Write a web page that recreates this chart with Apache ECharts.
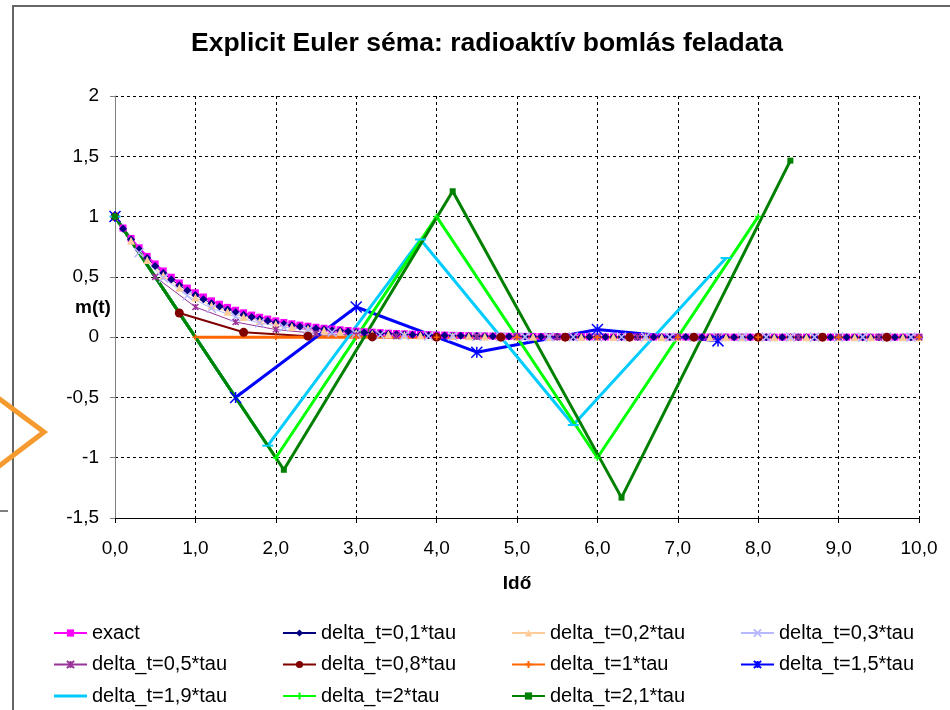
<!DOCTYPE html>
<html>
<head>
    <meta charset="utf-8">
    <title>ECharts</title>
    <script src="https://cdn.jsdelivr.net/npm/echarts@6/dist/echarts.min.js"></script>
    <style>
        html, body { margin: 0; padding: 0; background: #fff; }
    </style>
</head>
<body>
    <div id="main" style="width: 950px;height:710px;"></div>
    <script type="text/javascript">
    // idopontok (tau egysegben)
    var t01 = [0,0.1,0.2,0.3,0.4,0.5,0.6,0.7,0.8,0.9,
        1,1.1,1.2,1.3,1.4,1.5,1.6,1.7,1.8,1.9,
        2,2.1,2.2,2.3,2.4,2.5,2.6,2.7,2.8,2.9,
        3,3.1,3.2,3.3,3.4,3.5,3.6,3.7,3.8,3.9,
        4,4.1,4.2,4.3,4.4,4.5,4.6,4.7,4.8,4.9,
        5,5.1,5.2,5.3,5.4,5.5,5.6,5.7,5.8,5.9,
        6,6.1,6.2,6.3,6.4,6.5,6.6,6.7,6.8,6.9,
        7,7.1,7.2,7.3,7.4,7.5,7.6,7.7,7.8,7.9,
        8,8.1,8.2,8.3,8.4,8.5,8.6,8.7,8.8,8.9,
        9,9.1,9.2,9.3,9.4,9.5,9.6,9.7,9.8,9.9,
        10];
    var t02 = [0,0.2,0.4,0.6,0.8,1,1.2,1.4,1.6,1.8,
        2,2.2,2.4,2.6,2.8,3,3.2,3.4,3.6,3.8,
        4,4.2,4.4,4.6,4.8,5,5.2,5.4,5.6,5.8,
        6,6.2,6.4,6.6,6.8,7,7.2,7.4,7.6,7.8,
        8,8.2,8.4,8.6,8.8,9,9.2,9.4,9.6,9.8,
        10];
    var t03 = [0,0.3,0.6,0.9,1.2,1.5,1.8,2.1,2.4,2.7,
        3,3.3,3.6,3.9,4.2,4.5,4.8,5.1,5.4,5.7,
        6,6.3,6.6,6.9,7.2,7.5,7.8,8.1,8.4,8.7,
        9,9.3,9.6,9.9];
    var t05 = [0,0.5,1,1.5,2,2.5,3,3.5,4,4.5,5,5.5,6,6.5,7,7.5,8,8.5,9,9.5,10];
    var t08 = [0,0.8,1.6,2.4,3.2,4,4.8,5.6,6.4,7.2,8,8.8,9.6];
    var t1 = [0,1,2,3,4,5,6,7,8,9,10];
    var t15 = [0,1.5,3,4.5,6,7.5];
    var t19 = [0,1.9,3.8,5.7,7.6];
    var t2 = [0,2,4,6,8];
    var t21 = [0,2.1,4.2,6.3,8.4];

    // m(t) ertekek
    var exact = [1,0.905,0.819,0.741,0.670,0.607,0.549,0.497,0.449,0.407,
        0.368,0.333,0.301,0.273,0.247,0.223,0.202,0.183,0.165,0.150,
        0.135,0.122,0.111,0.100,0.091,0.082,0.074,0.067,0.061,0.055,
        0.050,0.045,0.041,0.037,0.033,0.030,0.027,0.025,0.022,0.020,
        0.018,0.017,0.015,0.014,0.012,0.011,0.010,0.009,0.008,0.007,
        0.007,0.006,0.006,0.005,0.005,0.004,0.004,0.003,0.003,0.003,
        0.002,0.002,0.002,0.002,0.002,0.002,0.001,0.001,0.001,0.001,
        0.001,0.001,0.001,0.001,0.001,0.001,0.001,0,0,0,
        0,0,0,0,0,0,0,0,0,0,
        0,0,0,0,0,0,0,0,0,0,
        0];
    var m01 = [1,0.9,0.81,0.729,0.656,0.590,0.531,0.478,0.430,0.387,
        0.349,0.314,0.282,0.254,0.229,0.206,0.185,0.167,0.150,0.135,
        0.122,0.109,0.098,0.089,0.080,0.072,0.065,0.058,0.052,0.047,
        0.042,0.038,0.034,0.031,0.028,0.025,0.023,0.020,0.018,0.016,
        0.015,0.013,0.012,0.011,0.010,0.009,0.008,0.007,0.006,0.006,
        0.005,0.005,0.004,0.004,0.003,0.003,0.003,0.002,0.002,0.002,
        0.002,0.002,0.001,0.001,0.001,0.001,0.001,0.001,0.001,0.001,
        0.001,0.001,0.001,0,0,0,0,0,0,0,
        0,0,0,0,0,0,0,0,0,0,
        0,0,0,0,0,0,0,0,0,0,
        0];
    var m02 = [1,0.8,0.64,0.512,0.410,0.328,0.262,0.210,0.168,0.134,
        0.107,0.086,0.069,0.055,0.044,0.035,0.028,0.023,0.018,0.014,
        0.012,0.009,0.007,0.006,0.005,0.004,0.003,0.002,0.002,0.002,
        0.001,0.001,0.001,0.001,0,0,0,0,0,0,
        0,0,0,0,0,0,0,0,0,0,
        0];
    var m03 = [1,0.7,0.49,0.343,0.240,0.168,0.118,0.082,0.058,0.040,
        0.028,0.020,0.014,0.010,0.007,0.005,0.003,0.002,0.002,0.001,
        0.001,0.001,0,0,0,0,0,0,0,0,
        0,0,0,0];
    var m05 = [1,0.5,0.25,0.125,0.063,0.031,0.016,0.008,0.004,0.002,0.001,0,0,0,0,0,0,0,0,0,0];
    var m08 = [1,0.2,0.04,0.008,0.002,0,0,0,0,0,0,0,0];
    var m1 = [1,0,0,0,0,0,0,0,0,0,0];
    var m15 = [1,-0.5,0.25,-0.125,0.063,-0.031];
    var m19 = [1,-0.9,0.81,-0.729,0.656];
    var m2 = [1,-1,1,-1,1];
    var m21 = [1,-1.1,1.21,-1.331,1.464];

    var names = ['exact','delta_t=0,1*tau','delta_t=0,2*tau','delta_t=0,3*tau',
        'delta_t=0,5*tau','delta_t=0,8*tau','delta_t=1*tau','delta_t=1,5*tau',
        'delta_t=1,9*tau','delta_t=2*tau','delta_t=2,1*tau'];
    var xs = [t01, t01, t02, t03, t05, t08, t1, t15, t19, t2, t21];
    var ys = [exact, m01, m02, m03, m05, m08, m1, m15, m19, m2, m21];

    var FONT = 'Liberation Sans';
    var pX = 'path://M0,0L10,10M10,0L0,10';
    var pAst = 'path://M0,0L10,10M10,0L0,10M5,0L5,10';
    var pPlus = 'path://M5,0L5,10M0,5L10,5';

    // stilusok sorozatonkent
    var styles = [
        {color: '#FF00FF', width: 2, symbol: 'rect', size: 7},
        {color: '#000080', width: 1, symbol: 'diamond', size: 8},
        {color: '#FFCC99', width: 1, symbol: 'triangle', size: 8},
        {color: '#B8B8FF', width: 1, symbol: pX, size: 9, stroke: true},
        {color: '#993399', width: 1, symbol: pAst, size: 6, stroke: true},
        {color: '#800000', width: 2, symbol: 'circle', size: 9},
        {color: '#FF6600', width: 3, symbol: pPlus, size: 6, stroke: true},
        {color: '#0000FF', width: 3, symbol: pAst, size: 11, stroke: true},
        {color: '#00CCFF', width: 3, symbol: 'rect', size: [11, 2]},
        {color: '#00FF00', width: 3, symbol: pPlus, size: 6, stroke: true},
        {color: '#008000', width: 3, symbol: 'rect', size: 6}
    ];

    var series = names.map(function (n, i) {
        var s = styles[i];
        return {
            name: n,
            type: 'line',
            data: xs[i].map(function (x, j) { return [x, ys[i][j]]; }),
            symbol: s.symbol,
            symbolSize: s.size,
            showAllSymbol: true,
            lineStyle: {color: s.color, width: s.width},
            itemStyle: s.stroke ? {color: s.color, borderColor: s.color, borderWidth: 1.5} : {color: s.color},
            animation: false
        };
    });

    // jelmagyarazat: 4 oszlop, soronkent balrol jobbra
    var legCols = [53, 282, 511, 740];
    var legends = legCols.map(function (left, c) {
        return {
            data: names.filter(function (n, i) { return i % 4 === c; }).map(function (n) {
                // az 1,9-es sorozatnak csak vonal a jele
                return n === 'delta_t=1,9*tau' ? {name: n, icon: 'path://M0,0L33,0L33,3L0,3Z'} : n;
            }),
            orient: 'vertical',
            left: left,
            top: 623,
            padding: 0,
            itemWidth: 33,
            itemHeight: 9,
            itemGap: 11.5,
            selectedMode: false,
            textStyle: {fontFamily: FONT, fontSize: 20, lineHeight: 20, color: '#000'}
        };
    });

    var myChart = echarts.init(document.getElementById('main'));
    var option = {
        backgroundColor: '#fff',
        animation: false,
        grid: {left: 115, right: 31, top: 96, bottom: 192},
        legend: legends,
        xAxis: {
            type: 'value', min: 0, max: 10, interval: 1,
            axisLine: {onZero: false, lineStyle: {color: '#000', width: 1}},
            axisTick: {length: 5, lineStyle: {color: '#000'}},
            axisLabel: {fontFamily: FONT, fontSize: 19, color: '#000', margin: 21,
                formatter: function (v) { return v.toFixed(1).replace('.', ','); }},
            splitLine: {show: true, lineStyle: {color: '#000', type: [3, 3], width: 1}}
        },
        yAxis: {
            type: 'value', min: -1.5, max: 2, interval: 0.5,
            axisLine: {show: true, lineStyle: {color: '#808080', width: 1}},
            axisTick: {show: true, length: 5, lineStyle: {color: '#808080'}},
            axisLabel: {fontFamily: FONT, fontSize: 19, color: '#000', margin: 16,
                formatter: function (v) { return String(v).replace('.', ','); }},
            splitLine: {show: true, lineStyle: {color: '#000', type: [3, 3], width: 1}}
        },
        graphic: [
            {type: 'text', x: 487, y: 44, style: {text: 'Explicit Euler séma: radioaktív bomlás feladata',
                font: 'bold 26.5px "Liberation Sans"', fill: '#000', align: 'center', verticalAlign: 'middle'}},
            {type: 'text', x: 517, y: 584, style: {text: 'Idő', font: 'bold 19px "Liberation Sans"',
                fill: '#000', align: 'center', verticalAlign: 'middle'}},
            {type: 'text', x: 75, y: 308, style: {text: 'm(t)', font: 'bold 19px "Liberation Sans"',
                fill: '#000', align: 'left', verticalAlign: 'middle'}},
            // a dia keretei
            {type: 'polyline', shape: {points: [[13, 710], [13, 6], [950, 6]]},
                style: {stroke: '#666', lineWidth: 2, fill: null}},
            {type: 'polyline', shape: {points: [[-2, 398], [44, 432], [-2, 467]]},
                style: {stroke: '#F59A2E', lineWidth: 5, fill: null}},
            {type: 'line', shape: {x1: 0, y1: 511, x2: 8, y2: 511}, style: {stroke: '#000', lineWidth: 1}}
        ],
        series: series
    };
    myChart.setOption(option);
    </script>
</body>
</html>
